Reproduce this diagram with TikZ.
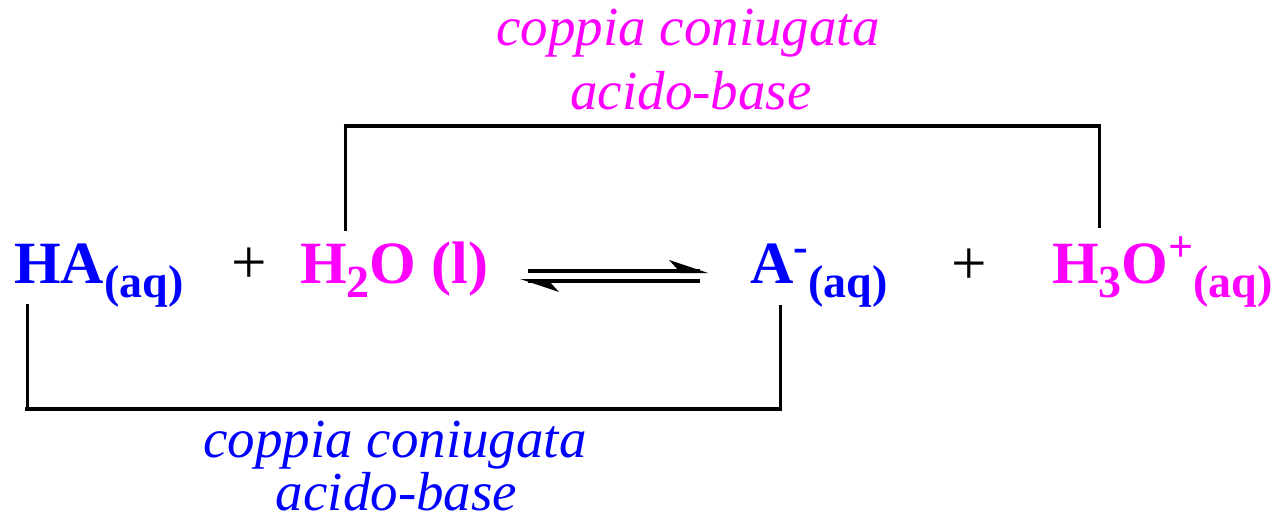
\documentclass[tikz,border=0pt]{standalone}
\usepackage{fontspec}
\setmainfont{Liberation Serif}
\definecolor{mag}{HTML}{FF00FF}
\definecolor{blu}{HTML}{0000FF}
\newcommand{\chemfs}{\fontsize{60}{60}\selectfont\bfseries}
\newcommand{\lo}[1]{\raisebox{-14pt}{\fontsize{46}{46}\selectfont\bfseries #1}}
\newcommand{\hi}[1]{\raisebox{22pt}{\fontsize{44}{44}\selectfont\bfseries #1}}
\tikzset{
  chem/.style={anchor=base west, inner sep=0pt, font=\chemfs},
  lbl/.style={anchor=base, inner sep=0pt, font=\fontsize{55}{55}\selectfont\itshape},
  plussign/.style={anchor=base west, inner sep=0pt, font=\fontsize{63}{63}\selectfont},
  hbar/.style={line width=4pt},
  vbar/.style={line width=3pt},
  arr/.style={line width=4pt},
}
\begin{document}
\begin{tikzpicture}[x=1pt,y=-1pt]
\useasboundingbox (0,0) rectangle (1284,524);
% formula
\node[chem, text=blu] (ha) at (14,283) {HA\lo{(aq)}};
\node[plussign] (p1) at (231,283) {+};
\node[chem, text=mag] (h2o) at (300,283) {H\lo{2}O (l)};
\node[chem, text=blu] (am) at (750,283) {A\hi{-}\lo{(aq)}};
\node[plussign] (p2) at (951,284) {+};
\node[chem, text=mag] (h3o) at (1052,283) {H\lo{3}O\hi{+}\lo{(aq)}};
% equilibrium arrows
\coordinate (f1) at (528,271);
\coordinate (f2) at (700,271);
\coordinate (b1) at (700,281);
\coordinate (b2) at (528,281);
\draw[arr] (f1) -- (f2);
\fill (708,273) -- (669,260) -- (679,271) -- (679,273) -- cycle;
\draw[arr] (b1) -- (b2);
\fill (520,279) -- (559,292) -- (549,281) -- (549,279) -- cycle;
% top bracket
\coordinate (t1) at (345,231);
\coordinate (t2) at (345,126);
\coordinate (t3) at (1099,126);
\coordinate (t4) at (1099,228);
\draw[hbar] (343.5,126) -- (1100.5,126);
\draw[vbar] (t2) -- (t1);
\draw[vbar] (t3) -- (t4);
% bottom bracket
\coordinate (u1) at (27,304);
\coordinate (u2) at (27,409);
\coordinate (u3) at (780,409);
\coordinate (u4) at (780,305);
\draw[hbar] (25,409) -- (782,409);
\draw[vbar] (u1) -- (u2);
\draw[vbar] (u4) -- (u3);
% labels
\node[lbl, text=mag] (tl1) at (688,46) {coppia coniugata};
\node[lbl, text=mag] (tl2) at (691,110) {acido-base};
\node[lbl, text=blu] (bl1) at (395,457) {coppia coniugata};
\node[lbl, text=blu] (bl2) at (396.5,510) {acido-base};
\end{tikzpicture}
\end{document}
